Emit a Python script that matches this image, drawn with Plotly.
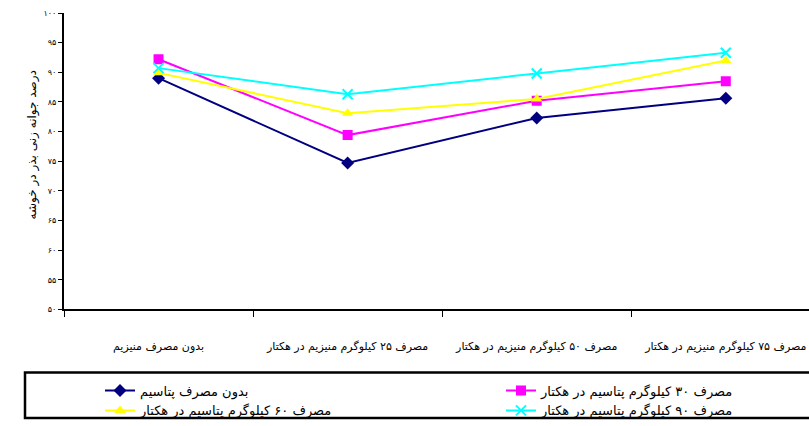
import plotly.graph_objects as go

categories = [
    "بدون مصرف منیزیم",
    "مصرف ۲۵ کیلوگرم منیزیم در هکتار",
    "مصرف ۵۰ کیلوگرم منیزیم در هکتار",
    "مصرف ۷۵ کیلوگرم منیزیم در هکتار",
]
series_names = [
    "بدون مصرف پتاسیم",
    "مصرف ۳۰ کیلوگرم پتاسیم در هکتار",
    "مصرف ۶۰ کیلوگرم پتاسیم در هکتار",
    "مصرف ۹۰ کیلوگرم پتاسیم در هکتار",
]
k0 = [89.0, 74.7, 82.3, 85.6]
k30 = [92.2, 79.4, 85.2, 88.5]
k60 = [89.9, 83.1, 85.5, 92.0]
k90 = [90.7, 86.3, 89.8, 93.3]
y_ticks = [50, 55, 60, 65, 70, 75, 80, 85, 90, 95, 100]
y_ticktext = ["۵۰", "۵۵", "۶۰", "۶۵", "۷۰", "۷۵", "۸۰", "۸۵", "۹۰", "۹۵", "۱۰۰"]
y_title = "درصد جوانه زنی بذر در خوشه"

styles = [
    dict(color="#000080", symbol="diamond", size=10, legend="legend"),
    dict(color="#FF00FF", symbol="square", size=10, legend="legend2"),
    dict(color="#FFFF00", symbol="triangle-up", size=10, legend="legend"),
    dict(color="#00FFFF", symbol="x-thin-open", size=10, legend="legend2"),
]

FONT = "DejaVu Sans"
W, H = 809, 426
L, T = 64, 13
AXIS_BOTTOM = 313          # pixel row of the x axis
PH = H - T                 # paper height (bottom margin 0)
PW = W - L


def px_x(p):
    return (p - L) / PW


def px_y(p):
    return (H - p) / PH


fig = go.Figure()
for name, vals, st in zip(series_names, [k0, k30, k60, k90], styles):
    mk = dict(symbol=st["symbol"], size=st["size"], color=st["color"])
    if st["symbol"].startswith("x-thin"):
        mk["line"] = dict(color=st["color"], width=2)
    fig.add_trace(go.Scatter(
        x=categories, y=vals, name=name, mode="lines+markers",
        line=dict(color=st["color"], width=2), marker=mk, legend=st["legend"],
    ))

legend_common = dict(
    orientation="v", xanchor="left", yanchor="top",
    font=dict(family=FONT, size=13, color="black"),
    bgcolor="rgba(0,0,0,0)", borderwidth=0, tracegroupgap=0,
)

fig.update_layout(
    width=W, height=H,
    margin=dict(l=L, r=0, t=T, b=0),
    paper_bgcolor="white", plot_bgcolor="white",
    font=dict(family=FONT, color="black", size=9),
    showlegend=True,
    legend=dict(x=px_x(100), y=px_y(380), **legend_common),
    legend2=dict(x=px_x(501), y=px_y(380), **legend_common),
    xaxis=dict(
        type="category", range=[-0.5, 3.44],
        showline=True, linecolor="black", linewidth=2,
        ticks="outside", ticklen=6, tickcolor="black", tickwidth=1,
        tickson="boundaries", showgrid=False, zeroline=False,
        tickfont=dict(family=FONT, size=11, color="black"),
        tickangle=0, ticklabelstandoff=25, automargin=False,
    ),
    yaxis=dict(
        domain=[px_y(AXIS_BOTTOM), 1],
        range=[50, 100], tickvals=y_ticks, ticktext=y_ticktext,
        showline=True, linecolor="black", linewidth=2,
        ticks="outside", ticklen=4, tickcolor="black", tickwidth=1,
        showgrid=False, zeroline=False, automargin=False,
        tickfont=dict(family=FONT, size=8, color="black"),
    ),
    annotations=[dict(
        text=y_title, xref="paper", yref="paper",
        x=px_x(32), y=px_y(147), textangle=-90, showarrow=False,
        font=dict(family=FONT, size=12, color="black"),
        xanchor="center", yanchor="middle",
    )],
    shapes=[dict(
        type="rect", xref="paper", yref="paper",
        x0=px_x(25), x1=1.05, y0=px_y(377), y1=px_y(423),
        line=dict(color="black", width=2.5), fillcolor="rgba(0,0,0,0)",
    )],
)
fig.write_html(
    "out.html",
    config={"displayModeBar": False},
    post_script="document.body.style.margin='0';document.body.style.overflow='hidden';",
)
